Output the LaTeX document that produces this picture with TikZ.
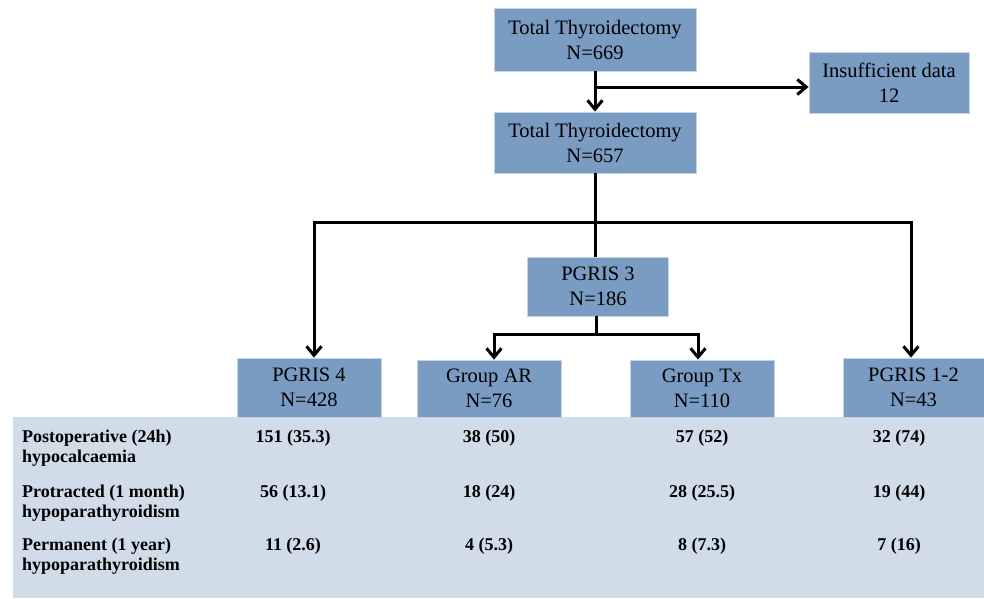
\documentclass[tikz,border=0pt]{standalone}
\usepackage{fontspec}
\setmainfont{Liberation Serif}
\usetikzlibrary{arrows.meta}
\definecolor{boxblue}{HTML}{7A9BC2}
\definecolor{boxedge}{HTML}{C5D3E6}
\definecolor{tablebg}{HTML}{D0DDE9}
\begin{document}
\begin{tikzpicture}[x=1pt,y=-1pt,
  box/.style={fill=boxblue, draw=boxedge, line width=0.8pt, inner sep=0pt, align=center, font=\fontsize{20.5}{25}\selectfont},
  conn/.style={line width=3pt, black},
  arr/.style={conn, -{Straight Barb[length=9pt,width=15pt]}},
  lbl/.style={anchor=north west, inner sep=0pt, align=left, font=\bfseries\fontsize{18}{20}\selectfont},
  val/.style={anchor=base, inner sep=0pt, font=\bfseries\fontsize{18}{20}\selectfont}]
\useasboundingbox (0,0) rectangle (984,598);
\fill[tablebg] (13,417) rectangle (984,598);

\node[box, minimum width=202pt, minimum height=63pt] (tt1) at (595,39.5) {Total Thyroidectomy\\N=669};
\node[box, minimum width=160pt, minimum height=61pt] (ins) at (889,82.5) {Insufficient data\\12};
\node[box, minimum width=202pt, minimum height=61pt] (tt2) at (595,142.5) {Total Thyroidectomy\\N=657};
\node[box, minimum width=141pt, minimum height=59pt] (pg3) at (598,286.5) {PGRIS 3\\N=186};
\node[box, minimum width=144pt, minimum height=59pt] (pg4) at (309,387.5) {PGRIS 4\\N=428};
\node[box, minimum width=144pt, minimum height=57pt] (ar) at (489,388.5) {Group AR\\N=76};
\node[box, minimum width=144pt, minimum height=57pt] (tx) at (702,388.5) {Group Tx\\N=110};
\node[box, minimum width=141pt, minimum height=59pt] (pg12) at (913.5,387.5) {PGRIS 1-2\\N=43};

\draw[arr] (tt1.south) -- (tt2.north);
\coordinate (j1) at (595,87);
\draw[arr] (j1) -- (j1 -| ins.west);

\draw[conn] (tt2.south) -- (tt2.south |- pg3.north);
\coordinate (j2) at (595,222);
\coordinate (l4) at (314,222);
\coordinate (r12) at (911,222);
\draw[arr] (j2) -- (l4) -- (l4 |- pg4.north);
\draw[arr] (j2) -- (r12) -- (r12 |- pg12.north);

\coordinate (j3) at (596,334);
\coordinate (la) at (494,334);
\coordinate (rt) at (698,334);
\draw[conn] (pg3.south -| j3) -- (j3);
\draw[arr] (j3) -- (la) -- (la |- ar.north);
\draw[arr] (j3) -- (rt) -- (rt |- tx.north);

\node[lbl] (r1) at (22,429.5) {Postoperative (24h)\\hypocalcaemia};
\node[lbl] (r2) at (22,484.5) {Protracted (1 month)\\hypoparathyroidism};
\node[lbl] (r3) at (22,537.5) {Permanent (1 year)\\hypoparathyroidism};

\node[val] (v11) at (293,442) {151 (35.3)};
\node[val] (v12) at (489,442) {38 (50)};
\node[val] (v13) at (702,442) {57 (52)};
\node[val] (v14) at (899,442) {32 (74)};
\node[val] (v21) at (293,497) {56 (13.1)};
\node[val] (v22) at (489,497) {18 (24)};
\node[val] (v23) at (702,497) {28 (25.5)};
\node[val] (v24) at (899,497) {19 (44)};
\node[val] (v31) at (293,550) {11 (2.6)};
\node[val] (v32) at (489,550) {4 (5.3)};
\node[val] (v33) at (702,550) {8 (7.3)};
\node[val] (v34) at (899,550) {7 (16)};
\end{tikzpicture}
\end{document}
